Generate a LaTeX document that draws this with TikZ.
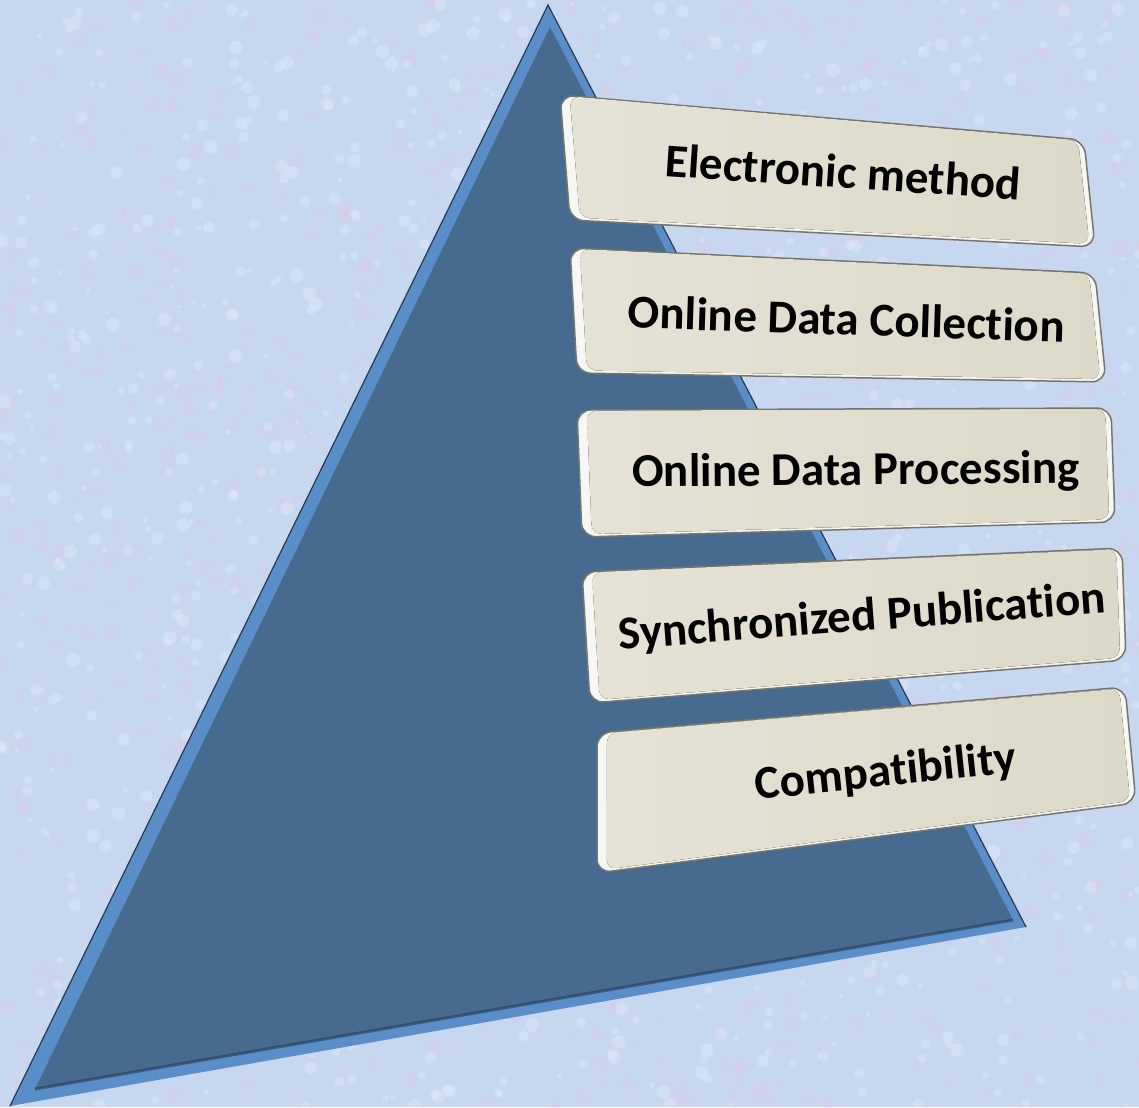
\documentclass[tikz,border=0pt]{standalone}
\usepackage{fontspec}
\setmainfont[Ligatures=NoCommon]{Carlito}
\usetikzlibrary{calc}

\definecolor{bgblue}{RGB}{200,215,240}
\definecolor{bgpink}{RGB}{226,200,230}
\definecolor{bgwhite}{RGB}{228,238,252}
\definecolor{pyrdark}{RGB}{70,107,143}
\definecolor{pyrlight}{RGB}{90,142,200}
\definecolor{pyredge}{RGB}{36,58,82}
\definecolor{boxface}{RGB}{220,217,200}
\definecolor{boxrim}{RGB}{246,246,242}
\definecolor{boxline}{RGB}{118,118,110}

\begin{document}
\begin{tikzpicture}[x=1pt,y=-1pt,
  rim/.style={fill=boxrim,draw=boxline,line width=1.5pt,rounded corners=14pt},
  face/.style={left color=boxface!75!white,right color=boxface,rounded corners=10pt},
  label/.style={font=\fontsize{47}{50}\selectfont\bfseries,inner sep=0pt,anchor=base}]
\useasboundingbox (0,0) rectangle (1139,1107);

% background
\fill[bgblue] (0,0) rectangle (1139,1107);
\pgfmathsetseed{7}
\foreach \i in {1,...,1200}{
  \pgfmathsetmacro{\px}{rnd*1139}
  \pgfmathsetmacro{\py}{rnd*1107}
  \pgfmathsetmacro{\pr}{2+rnd*5}
  \fill[bgpink,opacity=0.3] (\px,\py) circle (\pr);
}
\foreach \i in {1,...,1200}{
  \pgfmathsetmacro{\px}{rnd*1139}
  \pgfmathsetmacro{\py}{rnd*1107}
  \pgfmathsetmacro{\pr}{2+rnd*5}
  \fill[bgwhite,opacity=0.35] (\px,\py) circle (\pr);
}

% pyramid
\coordinate (apex) at (548,5);
\coordinate (left) at (10,1106);
\coordinate (right) at (1026,927);
\fill[pyrlight] (apex) -- (left) -- (right) -- cycle;
\draw[pyredge,line width=1.2pt] (right) -- (apex) -- (left);
\fill[pyrdark] (550,27) -- (35,1089) -- (1013,920) -- cycle;
\draw[pyredge,line width=3pt,opacity=0.6] (35,1089) -- (1013,920);

% steps
\foreach \ax/\ay/\bx/\by/\cx/\cy/\dx/\dy/\tx/\ty/\ang/\txt/\nm in {
  560/95/1084/140/1095/247/570/220/842/188/-3.8/Electronic method/elec,
  570/248/1095/273/1106/382/577/373/846/335/-1.85/Online Data Collection/coll,
  577/410/1111/408/1115/522/582/537/856/485/0.5/Online Data Processing/proc,
  582/572/1122/548/1126/660/590/703/863/631/4.3/Synchronized Publication/sync,
  597/733/1125/687/1136/803/597/873/887/786/6/Compatibility/comp}{
  \coordinate (\nm a) at (\ax,\ay);
  \coordinate (\nm b) at (\bx,\by);
  \coordinate (\nm c) at (\cx,\cy);
  \coordinate (\nm d) at (\dx,\dy);
  \fill[black,opacity=0.18,rounded corners=14pt,shift={(5,7)}]
    (\nm a) -- (\nm b) -- (\nm c) -- (\nm d) -- cycle;
  \draw[rim] (\nm a) -- (\nm b) -- (\nm c) -- (\nm d) -- cycle;
  \fill[face] ($(\nm a)!8pt!(\nm c)+(2,-1)$) -- ($(\nm b)!8pt!(\nm d)+(2,-1)$)
    -- ($(\nm c)!8pt!(\nm a)+(2,-1)$) -- ($(\nm d)!8pt!(\nm b)+(2,-1)$) -- cycle;
  \node[label,rotate=\ang] (\nm) at (\tx,\ty) {\txt};
}
\end{tikzpicture}
\end{document}
